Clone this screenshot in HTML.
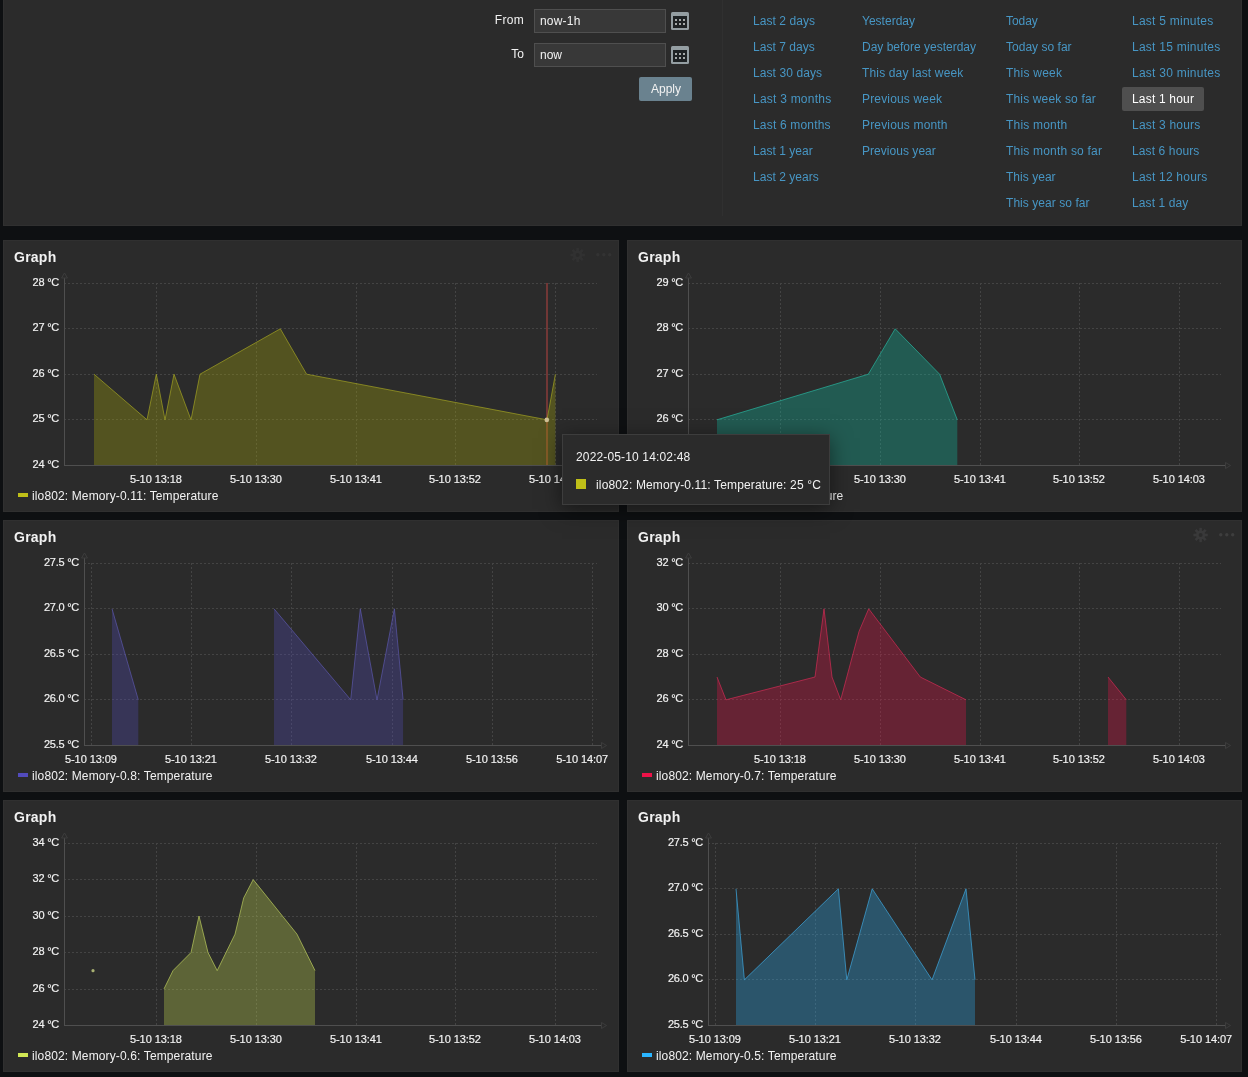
<!DOCTYPE html>
<html><head><meta charset="utf-8"><title>Dashboard</title>
<style>
html,body{margin:0;padding:0}
body{width:1248px;height:1077px;overflow:hidden;background:#0e1012;color:#f2f2f2;
font-family:"Liberation Sans",sans-serif;font-size:12px;line-height:14px;position:relative}
.panel{position:absolute;left:3px;top:-20px;width:1237px;height:244px;background:#2b2b2b;border:1px solid #303030}
.w{position:absolute;background:#2b2b2b;border:1px solid #303030;box-sizing:border-box;overflow:hidden}
.w h4{position:absolute;left:10px;top:8px;letter-spacing:0.25px;margin:0;font-size:14px;line-height:16px;font-weight:bold;color:#f2f2f2}
.w svg{position:absolute;left:-1px;top:-1px}
.lg{position:absolute;font-size:12px;line-height:14px;color:#f2f2f2;white-space:nowrap}
.lg{letter-spacing:0.13px}
.lg i{position:absolute;display:block;width:10px;height:4px;left:-14px;top:4px}
a,.lbl,.lg,.w h4,.w svg,.tip div,.inp span,.btn span,.sel span{will-change:transform}
.inp span,.btn span,.sel span{display:inline-block}
svg text{font-family:"Liberation Sans",sans-serif;font-size:11px;fill:#f2f2f2;stroke:#f2f2f2;stroke-width:0.18px}
a{color:#4796c4;text-decoration:none;position:absolute;white-space:nowrap;font-size:12px;line-height:14px}
.lbl{position:absolute;white-space:nowrap;text-align:right;width:60px}
.inp{position:absolute;box-sizing:border-box;width:132px;height:24px;background:#383838;border:1px solid #4f4f4f;color:#f2f2f2;padding:4px 5px;font-size:12px;line-height:14px}
.btn{position:absolute;box-sizing:border-box;background:#6a828f;color:#f2f2f2;border-radius:2px;text-align:center;height:24px;line-height:24px;font-size:12px}
.sel{position:absolute;white-space:nowrap;box-sizing:border-box;background:#4f4f4f;color:#fff;border-radius:2px;height:24px;line-height:24px;padding:0 10px;font-size:12px}
.cal{position:absolute;width:18px;height:18px}
.sep{position:absolute;left:722px;top:0;width:1px;height:216px;background:#303030}
.tip{position:absolute;left:562px;top:434px;width:268px;height:71px;box-sizing:border-box;background:#2b2b2b;border:1px solid #3d3d3d;box-shadow:0 4px 20px 0 rgba(0,0,0,.5)}
.tip div{position:absolute;white-space:nowrap}
</style></head>
<body>

<div class="panel"></div>
<div class="lbl" style="left:464px;top:13px;letter-spacing:.3px">From</div>
<div class="lbl" style="left:464px;top:47px">To</div>
<div class="inp" style="left:534px;top:9px"><span style="letter-spacing:.2px">now-1h</span></div>
<div class="inp" style="left:534px;top:43px"><span>now</span></div>
<svg class="cal" style="left:671px;top:12px" viewBox="0 0 18 18"><rect x="0" y="0" width="18" height="18" rx="1.5" fill="#949ea2"/><rect x="2" y="4" width="14" height="12" fill="#1e2224"/><rect x="4" y="7" width="2" height="2" fill="#a6aaaa"/><rect x="8" y="7" width="2" height="2" fill="#a6aaaa"/><rect x="12" y="7" width="2" height="2" fill="#a6aaaa"/><rect x="4" y="11" width="2" height="2" fill="#a6aaaa"/><rect x="8" y="11" width="2" height="2" fill="#a6aaaa"/><rect x="12" y="11" width="2" height="2" fill="#a6aaaa"/></svg>
<svg class="cal" style="left:671px;top:46px" viewBox="0 0 18 18"><rect x="0" y="0" width="18" height="18" rx="1.5" fill="#949ea2"/><rect x="2" y="4" width="14" height="12" fill="#1e2224"/><rect x="4" y="7" width="2" height="2" fill="#a6aaaa"/><rect x="8" y="7" width="2" height="2" fill="#a6aaaa"/><rect x="12" y="7" width="2" height="2" fill="#a6aaaa"/><rect x="4" y="11" width="2" height="2" fill="#a6aaaa"/><rect x="8" y="11" width="2" height="2" fill="#a6aaaa"/><rect x="12" y="11" width="2" height="2" fill="#a6aaaa"/></svg>
<div class="btn" style="left:639px;top:77px;width:53px;padding-left:1px"><span>Apply</span></div>
<div class="sep"></div>
<a style="left:753px;top:14px;letter-spacing:0.056px">Last 2 days</a><a style="left:753px;top:40px;letter-spacing:0.050px">Last 7 days</a><a style="left:753px;top:66px;letter-spacing:0.089px">Last 30 days</a><a style="left:753px;top:92px;letter-spacing:0.230px">Last 3 months</a><a style="left:753px;top:118px;letter-spacing:0.185px">Last 6 months</a><a style="left:753px;top:144px;letter-spacing:0.036px">Last 1 year</a><a style="left:753px;top:170px;letter-spacing:0.041px">Last 2 years</a><a style="left:862px;top:14px;letter-spacing:0.010px">Yesterday</a><a style="left:862px;top:40px;letter-spacing:-0.002px">Day before yesterday</a><a style="left:862px;top:66px;letter-spacing:0.154px">This day last week</a><a style="left:862px;top:92px;letter-spacing:0.164px">Previous week</a><a style="left:862px;top:118px;letter-spacing:0.165px">Previous month</a><a style="left:862px;top:144px;letter-spacing:0.037px">Previous year</a><a style="left:1006px;top:14px;letter-spacing:-0.054px">Today</a><a style="left:1006px;top:40px;letter-spacing:0.023px">Today so far</a><a style="left:1006px;top:66px;letter-spacing:0.248px">This week</a><a style="left:1006px;top:92px;letter-spacing:0.157px">This week so far</a><a style="left:1006px;top:118px;letter-spacing:0.195px">This month</a><a style="left:1006px;top:144px;letter-spacing:0.202px">This month so far</a><a style="left:1006px;top:170px;letter-spacing:0.032px">This year</a><a style="left:1006px;top:196px;letter-spacing:0.055px">This year so far</a><a style="left:1132px;top:14px;letter-spacing:0.245px">Last 5 minutes</a><a style="left:1132px;top:40px;letter-spacing:0.251px">Last 15 minutes</a><a style="left:1132px;top:66px;letter-spacing:0.251px">Last 30 minutes</a><div class="sel" style="left:1122px;top:87px;width:82px;letter-spacing:0.188px"><span>Last 1 hour</span></div><a style="left:1132px;top:118px;letter-spacing:0.208px">Last 3 hours</a><a style="left:1132px;top:144px;letter-spacing:0.117px">Last 6 hours</a><a style="left:1132px;top:170px;letter-spacing:0.209px">Last 12 hours</a><a style="left:1132px;top:196px;letter-spacing:0.095px">Last 1 day</a>

<div class="w" style="left:3px;top:240px;width:616px;height:272px"><h4>Graph</h4><svg width="616" height="272" viewBox="3 240 616 272"><path d="M64.0 283.5H597M64.0 328.5H597M64.0 374.5H597M64.0 419.5H597M156.5 283.0V465.5M256.5 283.0V465.5M356.5 283.0V465.5M455.5 283.0V465.5M555.5 283.0V465.5" fill="none" stroke="#444444" stroke-width="1" stroke-dasharray="2,2" shape-rendering="crispEdges"/><path d="M547 283V465" stroke="#f0504b" stroke-opacity="0.4" stroke-width="1.8" fill="none"/><polygon points="94.0,465.5 94.0,374.2 147.0,419.8 156.3,374.2 165.0,419.8 174.0,374.2 191.0,419.8 200.0,374.2 280.3,328.8 306.6,374.2 547.0,419.8 555.4,374.2 555.4,465.5" fill="#b0af07" fill-opacity="0.3"/><polyline points="94.0,374.2 147.0,419.8 156.3,374.2 165.0,419.8 174.0,374.2 191.0,419.8 200.0,374.2 280.3,328.8 306.6,374.2 547.0,419.8 555.4,374.2" fill="none" stroke="#abaa24" stroke-opacity="0.65" stroke-width="1" stroke-linejoin="round"/><path d="M64.5 277.5V465.5H602" fill="none" stroke="#4f4f4f" stroke-width="1" shape-rendering="crispEdges"/><path d="M61.5 278.0L64.5 273.0L67.5 278.0Z" fill="none" stroke="#3d3d3d" stroke-width="1"/><path d="M601.5 462.5L606.5 465.5L601.5 468.5Z" fill="none" stroke="#3d3d3d" stroke-width="1"/><text x="59.0" y="286.1" text-anchor="end" letter-spacing="-0.25">28 °C</text><text x="59.0" y="331.1" text-anchor="end" letter-spacing="-0.25">27 °C</text><text x="59.0" y="377.1" text-anchor="end" letter-spacing="-0.25">26 °C</text><text x="59.0" y="422.1" text-anchor="end" letter-spacing="-0.25">25 °C</text><text x="59.0" y="468.1" text-anchor="end" letter-spacing="-0.25">24 °C</text><text x="155.9" y="483" text-anchor="middle" letter-spacing="-0.07">5-10 13:18</text><text x="255.9" y="483" text-anchor="middle" letter-spacing="-0.07">5-10 13:30</text><text x="355.9" y="483" text-anchor="middle" letter-spacing="-0.07">5-10 13:41</text><text x="454.9" y="483" text-anchor="middle" letter-spacing="-0.07">5-10 13:52</text><text x="554.9" y="483" text-anchor="middle" letter-spacing="-0.07">5-10 14:03</text><circle cx="546.8" cy="419.9" r="2.3" fill="#cfbf95"/><g opacity="0.14"><g stroke="#5a5a5c" stroke-width="2.6"><line x1="570.40" y1="255.00" x2="584.80" y2="255.00"/><line x1="577.60" y1="247.80" x2="577.60" y2="262.20"/><line x1="572.51" y1="249.91" x2="582.69" y2="260.09"/><line x1="572.51" y1="260.09" x2="582.69" y2="249.91"/></g><circle cx="577.6" cy="255" r="4.6" fill="#5a5a5c"/><circle cx="577.6" cy="255" r="2" fill="#2b2b2b"/><circle cx="597.8" cy="254.8" r="1.7" fill="#6a6a6a"/><circle cx="603.8" cy="254.8" r="1.7" fill="#6a6a6a"/><circle cx="609.7" cy="254.8" r="1.7" fill="#6a6a6a"/></g></svg><div class="lg" style="left:28px;top:248px"><i style="background:#bfbf18"></i>ilo802: Memory-0.11: Temperature</div></div><div class="w" style="left:627px;top:240px;width:615px;height:272px"><h4>Graph</h4><svg width="615" height="272" viewBox="627 240 615 272"><path d="M688.0 283.5H1221M688.0 328.5H1221M688.0 374.5H1221M688.0 419.5H1221M780.5 283.0V465.5M880.5 283.0V465.5M980.5 283.0V465.5M1079.5 283.0V465.5M1179.5 283.0V465.5" fill="none" stroke="#444444" stroke-width="1" stroke-dasharray="2,2" shape-rendering="crispEdges"/><polygon points="717.0,465.5 717.0,419.8 868.3,374.2 895.2,328.8 939.6,374.2 957.3,419.8 957.3,465.5" fill="#0ec9ac" fill-opacity="0.3"/><polyline points="717.0,419.8 868.3,374.2 895.2,328.8 939.6,374.2 957.3,419.8" fill="none" stroke="#29bfa8" stroke-opacity="0.65" stroke-width="1" stroke-linejoin="round"/><path d="M688.5 277.5V465.5H1226" fill="none" stroke="#4f4f4f" stroke-width="1" shape-rendering="crispEdges"/><path d="M685.5 278.0L688.5 273.0L691.5 278.0Z" fill="none" stroke="#3d3d3d" stroke-width="1"/><path d="M1225.5 462.5L1230.5 465.5L1225.5 468.5Z" fill="none" stroke="#3d3d3d" stroke-width="1"/><text x="683.0" y="286.1" text-anchor="end" letter-spacing="-0.25">29 °C</text><text x="683.0" y="331.1" text-anchor="end" letter-spacing="-0.25">28 °C</text><text x="683.0" y="377.1" text-anchor="end" letter-spacing="-0.25">27 °C</text><text x="683.0" y="422.1" text-anchor="end" letter-spacing="-0.25">26 °C</text><text x="683.0" y="468.1" text-anchor="end" letter-spacing="-0.25">25 °C</text><text x="779.9" y="483" text-anchor="middle" letter-spacing="-0.07">5-10 13:18</text><text x="879.9" y="483" text-anchor="middle" letter-spacing="-0.07">5-10 13:30</text><text x="979.9" y="483" text-anchor="middle" letter-spacing="-0.07">5-10 13:41</text><text x="1078.9" y="483" text-anchor="middle" letter-spacing="-0.07">5-10 13:52</text><text x="1178.9" y="483" text-anchor="middle" letter-spacing="-0.07">5-10 14:03</text></svg><div class="lg" style="left:28px;top:248px"><i style="background:#0ec9ac"></i>ilo802: Memory-0.10: Temperature</div></div><div class="w" style="left:3px;top:520px;width:616px;height:272px"><h4>Graph</h4><svg width="616" height="272" viewBox="3 520 616 272"><path d="M84.0 563.5H597M84.0 608.5H597M84.0 654.5H597M84.0 699.5H597M91.5 563.0V745.5M191.5 563.0V745.5M291.5 563.0V745.5M392.5 563.0V745.5M492.5 563.0V745.5M592.5 563.0V745.5" fill="none" stroke="#444444" stroke-width="1" stroke-dasharray="2,2" shape-rendering="crispEdges"/><polygon points="112.0,745.5 112.0,608.8 138.3,699.8 138.3,745.5" fill="#524bbc" fill-opacity="0.3"/><polyline points="112.0,608.8 138.3,699.8" fill="none" stroke="#605ab4" stroke-opacity="0.65" stroke-width="1" stroke-linejoin="round"/><polygon points="274.0,745.5 274.0,608.8 350.7,699.8 360.3,608.8 377.0,699.8 394.4,608.8 403.1,699.8 403.1,745.5" fill="#524bbc" fill-opacity="0.3"/><polyline points="274.0,608.8 350.7,699.8 360.3,608.8 377.0,699.8 394.4,608.8 403.1,699.8" fill="none" stroke="#605ab4" stroke-opacity="0.65" stroke-width="1" stroke-linejoin="round"/><path d="M84.5 557.5V745.5H602" fill="none" stroke="#4f4f4f" stroke-width="1" shape-rendering="crispEdges"/><path d="M81.5 558.0L84.5 553.0L87.5 558.0Z" fill="none" stroke="#3d3d3d" stroke-width="1"/><path d="M601.5 742.5L606.5 745.5L601.5 748.5Z" fill="none" stroke="#3d3d3d" stroke-width="1"/><text x="79.0" y="566.1" text-anchor="end" letter-spacing="-0.25">27.5 °C</text><text x="79.0" y="611.1" text-anchor="end" letter-spacing="-0.25">27.0 °C</text><text x="79.0" y="657.1" text-anchor="end" letter-spacing="-0.25">26.5 °C</text><text x="79.0" y="702.1" text-anchor="end" letter-spacing="-0.25">26.0 °C</text><text x="79.0" y="748.1" text-anchor="end" letter-spacing="-0.25">25.5 °C</text><text x="90.9" y="763" text-anchor="middle" letter-spacing="-0.07">5-10 13:09</text><text x="190.9" y="763" text-anchor="middle" letter-spacing="-0.07">5-10 13:21</text><text x="290.9" y="763" text-anchor="middle" letter-spacing="-0.07">5-10 13:32</text><text x="391.9" y="763" text-anchor="middle" letter-spacing="-0.07">5-10 13:44</text><text x="491.9" y="763" text-anchor="middle" letter-spacing="-0.07">5-10 13:56</text><text x="608.1" y="763" text-anchor="end" letter-spacing="-0.07">5-10 14:07</text></svg><div class="lg" style="left:28px;top:248px"><i style="background:#524bbc"></i>ilo802: Memory-0.8: Temperature</div></div><div class="w" style="left:627px;top:520px;width:615px;height:272px"><h4>Graph</h4><svg width="615" height="272" viewBox="627 520 615 272"><path d="M688.0 563.5H1221M688.0 608.5H1221M688.0 654.5H1221M688.0 699.5H1221M780.5 563.0V745.5M880.5 563.0V745.5M980.5 563.0V745.5M1079.5 563.0V745.5M1179.5 563.0V745.5" fill="none" stroke="#444444" stroke-width="1" stroke-dasharray="2,2" shape-rendering="crispEdges"/><polygon points="717.0,745.5 717.0,677.0 726.0,699.8 815.0,677.0 824.0,608.8 832.0,677.0 840.7,699.8 859.0,631.5 868.7,608.8 920.3,677.0 966.0,699.8 966.0,745.5" fill="#ed1248" fill-opacity="0.3"/><polyline points="717.0,677.0 726.0,699.8 815.0,677.0 824.0,608.8 832.0,677.0 840.7,699.8 859.0,631.5 868.7,608.8 920.3,677.0 966.0,699.8" fill="none" stroke="#dc2c58" stroke-opacity="0.65" stroke-width="1" stroke-linejoin="round"/><polygon points="1108.0,745.5 1108.0,677.0 1126.3,699.8 1126.3,745.5" fill="#ed1248" fill-opacity="0.3"/><polyline points="1108.0,677.0 1126.3,699.8" fill="none" stroke="#dc2c58" stroke-opacity="0.65" stroke-width="1" stroke-linejoin="round"/><path d="M688.5 557.5V745.5H1226" fill="none" stroke="#4f4f4f" stroke-width="1" shape-rendering="crispEdges"/><path d="M685.5 558.0L688.5 553.0L691.5 558.0Z" fill="none" stroke="#3d3d3d" stroke-width="1"/><path d="M1225.5 742.5L1230.5 745.5L1225.5 748.5Z" fill="none" stroke="#3d3d3d" stroke-width="1"/><text x="683.0" y="566.1" text-anchor="end" letter-spacing="-0.25">32 °C</text><text x="683.0" y="611.1" text-anchor="end" letter-spacing="-0.25">30 °C</text><text x="683.0" y="657.1" text-anchor="end" letter-spacing="-0.25">28 °C</text><text x="683.0" y="702.1" text-anchor="end" letter-spacing="-0.25">26 °C</text><text x="683.0" y="748.1" text-anchor="end" letter-spacing="-0.25">24 °C</text><text x="779.9" y="763" text-anchor="middle" letter-spacing="-0.07">5-10 13:18</text><text x="879.9" y="763" text-anchor="middle" letter-spacing="-0.07">5-10 13:30</text><text x="979.9" y="763" text-anchor="middle" letter-spacing="-0.07">5-10 13:41</text><text x="1078.9" y="763" text-anchor="middle" letter-spacing="-0.07">5-10 13:52</text><text x="1178.9" y="763" text-anchor="middle" letter-spacing="-0.07">5-10 14:03</text><g opacity="0.3"><g stroke="#5a5a5c" stroke-width="2.6"><line x1="1193.40" y1="535.00" x2="1207.80" y2="535.00"/><line x1="1200.60" y1="527.80" x2="1200.60" y2="542.20"/><line x1="1195.51" y1="529.91" x2="1205.69" y2="540.09"/><line x1="1195.51" y1="540.09" x2="1205.69" y2="529.91"/></g><circle cx="1200.6" cy="535" r="4.6" fill="#5a5a5c"/><circle cx="1200.6" cy="535" r="2" fill="#2b2b2b"/><circle cx="1220.8" cy="534.8" r="1.7" fill="#6a6a6a"/><circle cx="1226.8" cy="534.8" r="1.7" fill="#6a6a6a"/><circle cx="1232.7" cy="534.8" r="1.7" fill="#6a6a6a"/></g></svg><div class="lg" style="left:28px;top:248px"><i style="background:#ed1248"></i>ilo802: Memory-0.7: Temperature</div></div><div class="w" style="left:3px;top:800px;width:616px;height:272px"><h4>Graph</h4><svg width="616" height="272" viewBox="3 800 616 272"><path d="M64.0 843.5H597M64.0 879.5H597M64.0 916.5H597M64.0 952.5H597M64.0 989.5H597M156.5 843.0V1025.5M256.5 843.0V1025.5M356.5 843.0V1025.5M455.5 843.0V1025.5M555.5 843.0V1025.5" fill="none" stroke="#444444" stroke-width="1" stroke-dasharray="2,2" shape-rendering="crispEdges"/><polygon points="164.0,1025.5 164.0,988.9 173.0,970.6 191.0,952.5 199.0,916.0 208.0,952.5 217.2,970.6 235.0,934.2 243.7,897.9 253.2,879.6 297.0,934.2 315.0,970.6 315.0,1025.5" fill="#d1e754" fill-opacity="0.3"/><polyline points="164.0,988.9 173.0,970.6 191.0,952.5 199.0,916.0 208.0,952.5 217.2,970.6 235.0,934.2 243.7,897.9 253.2,879.6 297.0,934.2 315.0,970.6" fill="none" stroke="#c5d761" stroke-opacity="0.65" stroke-width="1" stroke-linejoin="round"/><circle cx="93" cy="970.65" r="1.6" fill="#bec87f" fill-opacity="0.85"/><path d="M64.5 837.5V1025.5H602" fill="none" stroke="#4f4f4f" stroke-width="1" shape-rendering="crispEdges"/><path d="M61.5 838.0L64.5 833.0L67.5 838.0Z" fill="none" stroke="#3d3d3d" stroke-width="1"/><path d="M601.5 1022.5L606.5 1025.5L601.5 1028.5Z" fill="none" stroke="#3d3d3d" stroke-width="1"/><text x="59.0" y="846.1" text-anchor="end" letter-spacing="-0.25">34 °C</text><text x="59.0" y="882.1" text-anchor="end" letter-spacing="-0.25">32 °C</text><text x="59.0" y="919.1" text-anchor="end" letter-spacing="-0.25">30 °C</text><text x="59.0" y="955.1" text-anchor="end" letter-spacing="-0.25">28 °C</text><text x="59.0" y="992.1" text-anchor="end" letter-spacing="-0.25">26 °C</text><text x="59.0" y="1028.1" text-anchor="end" letter-spacing="-0.25">24 °C</text><text x="155.9" y="1043" text-anchor="middle" letter-spacing="-0.07">5-10 13:18</text><text x="255.9" y="1043" text-anchor="middle" letter-spacing="-0.07">5-10 13:30</text><text x="355.9" y="1043" text-anchor="middle" letter-spacing="-0.07">5-10 13:41</text><text x="454.9" y="1043" text-anchor="middle" letter-spacing="-0.07">5-10 13:52</text><text x="554.9" y="1043" text-anchor="middle" letter-spacing="-0.07">5-10 14:03</text></svg><div class="lg" style="left:28px;top:248px"><i style="background:#d1e754"></i>ilo802: Memory-0.6: Temperature</div></div><div class="w" style="left:627px;top:800px;width:615px;height:272px"><h4>Graph</h4><svg width="615" height="272" viewBox="627 800 615 272"><path d="M708.0 843.5H1221M708.0 888.5H1221M708.0 934.5H1221M708.0 979.5H1221M715.5 843.0V1025.5M815.5 843.0V1025.5M915.5 843.0V1025.5M1016.5 843.0V1025.5M1116.5 843.0V1025.5M1216.5 843.0V1025.5" fill="none" stroke="#444444" stroke-width="1" stroke-dasharray="2,2" shape-rendering="crispEdges"/><polygon points="736.0,1025.5 736.0,888.8 744.4,979.8 838.4,888.8 846.8,979.8 872.2,888.8 932.0,979.8 966.0,888.8 975.0,979.8 975.0,1025.5" fill="#2ab5ff" fill-opacity="0.3"/><polyline points="736.0,888.8 744.4,979.8 838.4,888.8 846.8,979.8 872.2,888.8 932.0,979.8 966.0,888.8 975.0,979.8" fill="none" stroke="#40afea" stroke-opacity="0.65" stroke-width="1" stroke-linejoin="round"/><path d="M708.5 837.5V1025.5H1226" fill="none" stroke="#4f4f4f" stroke-width="1" shape-rendering="crispEdges"/><path d="M705.5 838.0L708.5 833.0L711.5 838.0Z" fill="none" stroke="#3d3d3d" stroke-width="1"/><path d="M1225.5 1022.5L1230.5 1025.5L1225.5 1028.5Z" fill="none" stroke="#3d3d3d" stroke-width="1"/><text x="703.0" y="846.1" text-anchor="end" letter-spacing="-0.25">27.5 °C</text><text x="703.0" y="891.1" text-anchor="end" letter-spacing="-0.25">27.0 °C</text><text x="703.0" y="937.1" text-anchor="end" letter-spacing="-0.25">26.5 °C</text><text x="703.0" y="982.1" text-anchor="end" letter-spacing="-0.25">26.0 °C</text><text x="703.0" y="1028.1" text-anchor="end" letter-spacing="-0.25">25.5 °C</text><text x="714.9" y="1043" text-anchor="middle" letter-spacing="-0.07">5-10 13:09</text><text x="814.9" y="1043" text-anchor="middle" letter-spacing="-0.07">5-10 13:21</text><text x="914.9" y="1043" text-anchor="middle" letter-spacing="-0.07">5-10 13:32</text><text x="1015.9" y="1043" text-anchor="middle" letter-spacing="-0.07">5-10 13:44</text><text x="1115.9" y="1043" text-anchor="middle" letter-spacing="-0.07">5-10 13:56</text><text x="1232.1000000000001" y="1043" text-anchor="end" letter-spacing="-0.07">5-10 14:07</text></svg><div class="lg" style="left:28px;top:248px"><i style="background:#2ab5ff"></i>ilo802: Memory-0.5: Temperature</div></div>
<div class="tip">
<div style="left:13px;top:15px;letter-spacing:0.15px">2022-05-10 14:02:48</div>
<i style="position:absolute;left:13px;top:44px;width:10px;height:10px;background:#bfbf18"></i>
<div style="left:33px;top:43px;letter-spacing:0.15px">ilo802: Memory-0.11: Temperature: 25 °C</div>
</div>
</body></html>
